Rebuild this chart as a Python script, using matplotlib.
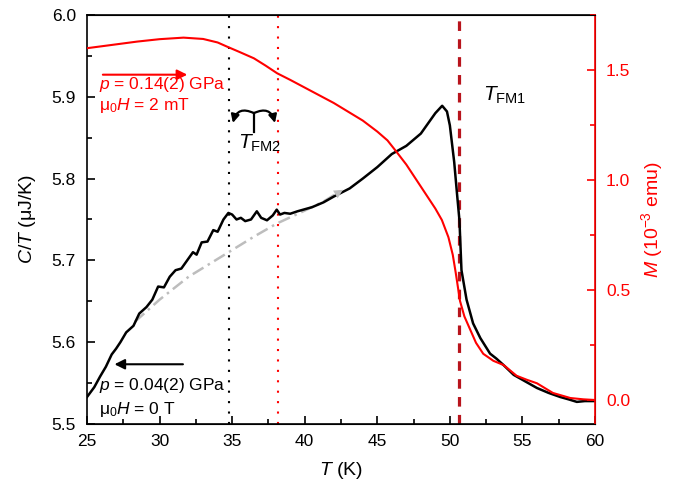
import numpy as np
import matplotlib
matplotlib.use('Agg')
import matplotlib.pyplot as plt
from matplotlib.patches import FancyArrowPatch
from matplotlib.ticker import MultipleLocator, FormatStrFormatter

plt.rcParams['font.family'] = ['Liberation Sans', 'DejaVu Sans']
plt.rcParams['mathtext.fontset'] = 'custom'
plt.rcParams['mathtext.rm'] = 'Liberation Sans'
plt.rcParams['mathtext.it'] = 'Liberation Sans:italic'

# specific heat C/T (black), p = 0.04(2) GPa
t_c = [25.0, 25.5, 25.9, 26.3, 26.7, 27.0, 27.3, 27.7, 28.2, 28.6, 29.1, 29.5, 29.9,
       30.3, 30.7, 31.1, 31.5, 31.9, 32.3, 32.55, 32.9, 33.3, 33.7, 34.0, 34.4, 34.74,
       35.0, 35.3, 35.6, 35.9, 36.3, 36.7, 37.0, 37.4, 37.8, 38.07, 38.3, 38.6, 39.0,
       39.5, 39.9, 40.5, 41.3, 42.0, 43.1, 44.0, 45.0, 46.0, 47.0, 48.0, 48.6, 49.0,
       49.47, 49.8, 50.0, 50.3, 50.5, 50.66, 50.8, 51.15, 51.6, 52.1, 52.77, 53.2,
       53.7, 54.4, 55.2, 56.0, 56.8, 57.6, 58.2, 58.75, 59.3, 60.0]
c_over_t = [5.533, 5.545, 5.558, 5.570, 5.585, 5.592, 5.600, 5.612, 5.620, 5.635, 5.643,
            5.652, 5.668, 5.667, 5.680, 5.688, 5.690, 5.700, 5.710, 5.707, 5.722, 5.723,
            5.737, 5.735, 5.750, 5.758, 5.756, 5.750, 5.752, 5.748, 5.750, 5.760, 5.752,
            5.749, 5.755, 5.762, 5.756, 5.758, 5.757, 5.760, 5.762, 5.765, 5.771, 5.778,
            5.788, 5.800, 5.814, 5.830, 5.840, 5.855, 5.870, 5.880, 5.889, 5.882, 5.865,
            5.820, 5.780, 5.749, 5.688, 5.652, 5.623, 5.605, 5.586, 5.580, 5.572, 5.560,
            5.552, 5.544, 5.538, 5.533, 5.530, 5.527, 5.528, 5.528]

# background guide (grey dash-dot)
t_bg = [28.3, 30.0, 32.0, 34.85, 36.5, 38.07, 39.9, 41.3, 42.4]
c_bg = [5.625, 5.652, 5.680, 5.711, 5.729, 5.745, 5.760, 5.772, 5.784]

# magnetization M (red), p = 0.14(2) GPa
t_m = [25.0, 26.5, 28.45, 30.0, 31.65, 33.0, 34.0, 34.65, 35.5, 36.5, 37.3, 38.1, 39.0,
       40.0, 41.0, 42.0, 43.0, 44.0, 45.0, 45.7, 46.3, 47.0, 47.7, 48.4, 49.0, 49.45,
       49.9, 50.2, 50.4, 50.7, 51.0, 51.4, 51.8, 52.3, 53.0, 53.7, 54.6, 55.3, 56.0,
       57.1, 58.3, 59.2, 60.0]
m = [1.599, 1.612, 1.629, 1.640, 1.647, 1.641, 1.625, 1.606, 1.582, 1.553, 1.520, 1.485,
     1.455, 1.420, 1.385, 1.350, 1.310, 1.270, 1.220, 1.180, 1.130, 1.070, 1.000, 0.930,
     0.870, 0.818, 0.740, 0.660, 0.580, 0.450, 0.380, 0.320, 0.260, 0.210, 0.178, 0.159,
     0.110, 0.092, 0.076, 0.032, 0.009, 0.003, 0.0]

t_fm2_black = 34.79
t_fm2_red = 38.15
t_fm1 = 50.6

fig = plt.figure(figsize=(6.73, 4.83), dpi=100)
ax = fig.add_axes([0.1293, 0.1222, 0.7548, 0.8468])
ax2 = ax.twinx()

ax.plot(t_c, c_over_t, color='black', lw=1.8, zorder=3)
ax.plot(t_bg, c_bg, color='#bdbdbd', lw=1.8, ls=(0, (5, 2, 1, 2)), zorder=2)
ax.annotate('', xy=(t_bg[-1] + 0.4, c_bg[-1] + 0.004), xytext=(t_bg[-2], c_bg[-2]),
            arrowprops=dict(arrowstyle='-|>', color='#bdbdbd', lw=0, mutation_scale=16))
ax2.plot(t_m, m, color='red', lw=1.5, zorder=3)

ax.axvline(t_fm2_black, color='black', lw=1.5, ls=(0, (1, 4)))
ax.axvline(t_fm2_red, color='red', lw=1.5, ls=(0, (1, 4)))
ax.axvline(t_fm1, color='#b8141c', lw=2.3, ls=(0, (3, 2.6)))

ax.set_xlim(25, 60)
ax.set_ylim(5.5, 6.0)
ax2.set_ylim(-0.109, 1.75)

ax.xaxis.set_major_locator(MultipleLocator(5))
ax.xaxis.set_minor_locator(MultipleLocator(2.5))
ax.yaxis.set_major_locator(MultipleLocator(0.1))
ax.yaxis.set_minor_locator(MultipleLocator(0.05))
ax2.yaxis.set_major_locator(MultipleLocator(0.5))
ax2.yaxis.set_minor_locator(MultipleLocator(0.25))
ax.yaxis.set_major_formatter(FormatStrFormatter('%.1f'))
ax2.yaxis.set_major_formatter(FormatStrFormatter('%.1f'))

ax.tick_params(which='both', direction='in', labelsize=12.5, width=1.2)
ax.tick_params(which='major', length=6)
ax.tick_params(which='minor', length=3.5)
ax.tick_params(axis='y', right=False, pad=8)
ax.tick_params(axis='x', pad=7)
ax2.tick_params(which='both', direction='in', labelsize=12.5, width=1.2,
                colors='red', pad=8)
ax2.tick_params(which='major', length=6)
ax2.tick_params(which='minor', length=3.5)
for s in ['left', 'bottom', 'top']:
    ax.spines[s].set_linewidth(1.2)
ax2.spines['right'].set_color('red')
ax2.spines['right'].set_linewidth(1.2)
ax2.spines['left'].set_visible(False)

ax.set_xlabel(r'$\mathit{T}$ (K)', fontsize=14, labelpad=8)
ax.set_ylabel(r'$\mathit{C}$/$\mathit{T}$ ($\mathrm{\mu}$J/K)', fontsize=14, labelpad=10)
ax2.set_ylabel(r'$\mathit{M}$ (10$^{-3}$ emu)', fontsize=14, color='red', labelpad=6)

# labels for red curve
ax.annotate('', xy=(32.1, 5.927), xytext=(25.9, 5.927),
            arrowprops=dict(arrowstyle='-|>', color='red', lw=1.5, mutation_scale=15))
ax.text(25.8, 5.909, r'$\mathit{p}$ = 0.14(2) GPa', color='red', fontsize=12.5)
ax.text(25.8, 5.884, r'$\mathrm{\mu}_0\mathit{H}$ = 2 mT', color='red', fontsize=12.5)

# labels for black curve
ax.annotate('', xy=(26.7, 5.573), xytext=(31.8, 5.573),
            arrowprops=dict(arrowstyle='-|>', color='black', lw=1.5, mutation_scale=15))
ax.text(25.8, 5.541, r'$\mathit{p}$ = 0.04(2) GPa', color='black', fontsize=12.5)
ax.text(25.8, 5.512, r'$\mathrm{\mu}_0\mathit{H}$ = 0 T', color='black', fontsize=12.5)

ax.text(52.3, 5.895, r'$\mathit{T}_{\mathrm{FM1}}$', fontsize=15)
ax.text(35.4, 5.837, r'$\mathit{T}_{\mathrm{FM2}}$', fontsize=15)

# curly arrows between the two FM2 lines
ax.plot([36.5, 36.5], [5.857, 5.880], color='black', lw=1.6)
for end, rad in [(35.05, 0.6), (37.95, -0.6)]:
    arr = FancyArrowPatch((36.5, 5.880), (end, 5.868),
                          connectionstyle='arc3,rad=%s' % rad, shrinkA=0, shrinkB=0,
                          arrowstyle='-|>', mutation_scale=12, color='black', lw=1.6)
    ax.add_patch(arr)

fig.savefig('out.png', dpi=100)
